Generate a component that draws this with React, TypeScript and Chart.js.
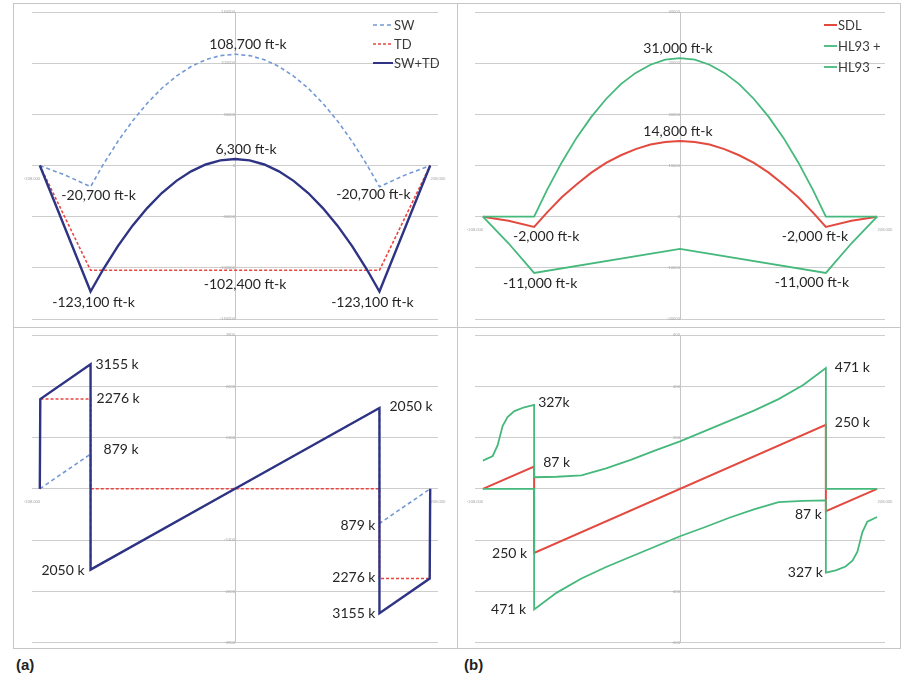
import React, { useEffect, useRef } from 'react';
import { Chart, registerables } from 'chart.js';

Chart.register(...registerables);

type Pt = [number, number];
type Lbl = [string, number, number];
type Off = [number, number, CanvasTextAlign];

// ---------- x span (ft) ----------
const X_MIN = -208;
const X_MAX = 208;

// ---------- (a) top: moment, ft-k ----------
const aMomentNames = ['SW', 'TD', 'SW+TD'];
const aMomentSW: Pt[] = [
  [-200, 0], [-174, -9400], [-148, -20700], [-135, 1000], [-120, 23600], [-105, 43600], [-90, 60800],
  [-75, 75500], [-60, 87400], [-45, 96700], [-30, 103400], [-15, 107400], [0, 108700],
  [15, 107400], [30, 103400], [45, 96700], [60, 87400], [75, 75500], [90, 60800], [105, 43600],
  [120, 23600], [135, 1000], [148, -20700], [174, -9400], [200, 0],
];
const aMomentTD: Pt[] = [[-200, 0], [-148, -102400], [148, -102400], [200, 0]];
const aMomentSum: Pt[] = [
  [-200, 0], [-148, -123100], [-135, -101400], [-120, -78800], [-105, -58800], [-90, -41600],
  [-75, -26900], [-60, -15000], [-45, -5700], [-30, 1000], [-15, 5000], [0, 6300],
  [15, 5000], [30, 1000], [45, -5700], [60, -15000], [75, -26900], [90, -41600], [105, -58800],
  [120, -78800], [135, -101400], [148, -123100], [200, 0],
];
const aMomentLabels: Lbl[] = [
  ['108,700 ft-k', 0, 108700], ['6,300 ft-k', 0, 6300],
  ['-20,700 ft-k', -148, -20700], ['-20,700 ft-k', 148, -20700],
  ['-123,100 ft-k', -148, -123100], ['-123,100 ft-k', 148, -123100],
  ['-102,400 ft-k', 0, -102400],
];

// ---------- (b) top: moment, ft-k ----------
const bMomentNames = ['SDL', 'HL93 +', 'HL93  -'];
const bMomentSDL: Pt[] = [
  [-200, 0], [-174, -800], [-148, -2000], [-135, 800], [-120, 3800], [-105, 6300], [-90, 8600],
  [-75, 10500], [-60, 12000], [-45, 13200], [-30, 14100], [-15, 14600], [0, 14800],
  [15, 14600], [30, 14100], [45, 13200], [60, 12000], [75, 10500], [90, 8600], [105, 6300],
  [120, 3800], [135, 800], [148, -2000], [174, -800], [200, 0],
];
const bMomentHLpos: Pt[] = [
  [-200, 0], [-148, 0], [-135, 5200], [-120, 10600], [-105, 15400], [-90, 19500], [-75, 23000],
  [-60, 25900], [-45, 28100], [-30, 29700], [-15, 30700], [0, 31000],
  [15, 30700], [30, 29700], [45, 28100], [60, 25900], [75, 23000], [90, 19500], [105, 15400],
  [120, 10600], [135, 5200], [148, 0], [200, 0],
];
const bMomentHLneg: Pt[] = [
  [-200, 0], [-174, -5200], [-148, -11000], [0, -6300], [148, -11000], [174, -5200], [200, 0],
];
const bMomentLabels: Lbl[] = [
  ['31,000 ft-k', 0, 31000], ['14,800 ft-k', 0, 14800],
  ['-2,000 ft-k', -148, -2000], ['-2,000 ft-k', 148, -2000],
  ['-11,000 ft-k', -148, -11000], ['-11,000 ft-k', 148, -11000],
];

// ---------- (a) bottom: shear, k ----------
const aShearSW: Pt[] = [[-200, 0], [-148, 879], [-148, -2050], [148, 2050], [148, -879], [200, 0]];
const aShearTD: Pt[] = [
  [-200, 0], [-199.5, 2276], [-148, 2276], [-148, 0], [148, 0], [148, -2276], [199.5, -2276], [200, 0],
];
const aShearSum: Pt[] = [
  [-200, 0], [-199.5, 2276], [-148, 3155], [-148, -2050], [0, 0], [148, 2050], [148, -3155], [199.5, -2276], [200, 0],
];
const aShearLabels: Lbl[] = [
  ['3155 k', -148, 3155], ['2276 k', -148, 2276], ['879 k', -148, 879], ['2050 k', 148, 2050],
  ['2050 k', -148, -2050], ['879 k', 148, -879], ['2276 k', 148, -2276], ['3155 k', 148, -3155],
];

// ---------- (b) bottom: shear, k ----------
const bShearSDL: Pt[] = [[-200, 0], [-148, 87], [-148, -250], [148, 250], [148, -87], [200, 0]];
const bShearHLpos: Pt[] = [
  [-200, 110], [-190, 128], [-185, 170], [-180, 245], [-175, 280], [-168, 303], [-158, 318], [-148, 327],
  [-148, 45], [-125, 47], [-100, 52], [-75, 80], [-50, 113], [-25, 150], [0, 185], [25, 225],
  [50, 265], [75, 305], [100, 350], [125, 405], [148, 471], [148, 0], [200, 0],
];
const bShearHLneg: Pt[] = [
  [-200, 0], [-148, 0], [-148, -471], [-125, -405], [-100, -350], [-75, -305], [-50, -265], [-25, -225],
  [0, -185], [25, -150], [50, -113], [75, -80], [100, -52], [125, -47], [148, -45], [148, -327],
  [158, -318], [168, -303], [175, -280], [180, -245], [185, -170], [190, -128], [200, -110],
];
const bShearLabels: Lbl[] = [
  ['471 k', 148, 471], ['327k', -148, 327], ['250 k', 148, 250], ['87 k', -148, 87],
  ['250 k', -148, -250], ['87 k', 148, -87], ['327 k', 148, -327], ['471 k', -148, -471],
];

// ---------- label offsets (px) ----------
const aMomentOff: Off[] = [[13, -10, 'center'], [11, -10, 'center'], [8, 9, 'center'], [-6, 8, 'center'], [3, 11, 'center'], [-7, 11, 'center'], [10, 14, 'center']];
const bMomentOff: Off[] = [[-2, -10, 'center'], [-2, -9, 'center'], [12, 10, 'center'], [-11, 10, 'center'], [6, 11, 'center'], [-14, 10, 'center']];
const aShearOff: Off[] = [[5, 0, 'left'], [6, -1, 'left'], [13, -5, 'left'], [10, -1, 'left'], [-6, 1, 'right'], [-4, 2, 'right'], [-4, -1, 'right'], [-4, 0, 'right']];
const bShearOff: Off[] = [[9, -1, 'left'], [4, -2, 'left'], [9, -2, 'left'], [9, -4, 'left'], [-7, 1, 'right'], [-4, 3, 'right'], [-3, 0, 'right'], [-8, 0, 'right']];

const C_SW = '#7398d6';
const C_TD = '#e8453f';
const C_SUM = '#2e3383';
const C_SDL = '#e24a40';
const C_HL = '#45b97c';

type Style = { color: string; width: number; dash?: number[]; order: number };
type LegendCfg = { right: number; top: number; gap: number; sample: number; items: { text: string; style: Style }[] };

function ds(label: string, pts: Pt[], s: Style) {
  return {
    label,
    data: pts.map(([x, y]) => ({ x, y })),
    borderColor: s.color,
    borderWidth: s.width,
    borderDash: s.dash || [],
    pointRadius: 0,
    fill: false,
    tension: 0,
    order: s.order,
  };
}

function annotate(labels: Lbl[], offsets: Off[], legend?: LegendCfg) {
  return {
    id: 'annotate',
    afterDatasetsDraw(chart: any) {
      const { ctx, chartArea } = chart;
      const xs = chart.scales.x;
      const ys = chart.scales.y;
      ctx.save();
      ctx.font = '14px Lato, "DejaVu Sans", sans-serif';
      ctx.fillStyle = '#262626';
      ctx.textBaseline = 'middle';
      labels.forEach(([text, x, y], i) => {
        const [dx, dy, align] = offsets[i];
        ctx.textAlign = align;
        ctx.fillText(text, xs.getPixelForValue(x) + dx, ys.getPixelForValue(y) + dy);
      });
      if (legend) {
        ctx.font = '13px Lato, "DejaVu Sans", sans-serif';
        ctx.textAlign = 'left';
        legend.items.forEach((it, i) => {
          const y = chartArea.top + legend.top + i * legend.gap;
          const x0 = chartArea.right + legend.right;
          ctx.strokeStyle = it.style.color;
          ctx.lineWidth = Math.min(it.style.width, 2);
          ctx.setLineDash(it.style.dash || []);
          ctx.beginPath();
          ctx.moveTo(x0, y);
          ctx.lineTo(x0 + legend.sample, y);
          ctx.stroke();
          ctx.setLineDash([]);
          ctx.fillStyle = '#3a3a3a';
          ctx.fillText(it.text, x0 + legend.sample + 1, y + 1);
        });
      }
      ctx.restore();
    },
  };
}

type PanelProps = {
  left: number; top: number; width: number; height: number;
  padding: { left: number; right: number; top: number; bottom: number };
  datasets: any[]; yMin: number; yMax: number; yStep: number;
  labels: Lbl[]; offsets: Off[]; legend?: LegendCfg;
};

function Panel(p: PanelProps) {
  const ref = useRef<HTMLCanvasElement>(null);
  useEffect(() => {
    const tickFont = { size: 4, family: 'Lato' };
    const chart = new Chart(ref.current as HTMLCanvasElement, {
      type: 'line',
      data: { datasets: p.datasets },
      options: {
        animation: false,
        responsive: false,
        devicePixelRatio: 1,
        events: [],
        layout: { padding: p.padding },
        plugins: { legend: { display: false }, tooltip: { enabled: false } },
        scales: {
          x: {
            type: 'linear',
            min: X_MIN,
            max: X_MAX,
            position: { y: 0 } as any,
            grid: { display: false },
            border: { display: false },
            afterBuildTicks: (scale: any) => {
              scale.ticks = [{ value: X_MIN }, { value: X_MAX }];
            },
            ticks: {
              font: tickFont,
              color: '#a8a8a8',
              maxRotation: 0,
              padding: 3,
              callback: (v: any) => Number(v).toFixed(3),
            },
          },
          y: {
            type: 'linear',
            min: p.yMin,
            max: p.yMax,
            position: { x: 0 } as any,
            grid: { color: '#cdcdcd', lineWidth: 1, drawTicks: false },
            border: { display: true, color: '#c6c6c6', width: 1 },
            ticks: { stepSize: p.yStep, font: tickFont, color: '#a8a8a8', padding: 3, callback: (v: any) => String(v) },
          },
        },
      } as any,
      plugins: [annotate(p.labels, p.offsets, p.legend)],
    });
    return () => chart.destroy();
  }, []);
  return (
    <canvas
      ref={ref}
      width={p.width}
      height={p.height}
      style={{ position: 'absolute', left: p.left, top: p.top, width: p.width, height: p.height }}
    />
  );
}

const sSW: Style = { color: C_SW, width: 1.6, dash: [4, 3], order: 2 };
const sTD: Style = { color: C_TD, width: 1.6, dash: [3, 2], order: 1 };
const sSUM: Style = { color: C_SUM, width: 2.4, order: 0 };
const sSDL: Style = { color: C_SDL, width: 2, order: 2 };
const sHL: Style = { color: C_HL, width: 1.8, order: 0 };

export default function App() {
  const line = (s: React.CSSProperties) => <div style={{ position: 'absolute', background: '#c6c6c6', ...s }} />;
  return (
    <div style={{ position: 'absolute', left: 0, top: 0, width: 905, height: 676, background: '#fff', overflow: 'hidden' }}>
      <div style={{ position: 'absolute', left: 13, top: 3, width: 888, height: 646, boxSizing: 'border-box', border: '1px solid #c6c6c6' }} />
      {line({ left: 457, top: 3, width: 1, height: 646 })}
      {line({ left: 13, top: 327, width: 888, height: 1 })}

      <Panel
        left={14} top={4} width={443} height={323}
        padding={{ left: 18, right: 19, top: 8, bottom: 8 }}
        yMin={-150000} yMax={150000} yStep={50000}
        datasets={[
          ds(aMomentNames[0], aMomentSW, sSW),
          ds(aMomentNames[1], aMomentTD, sTD),
          ds(aMomentNames[2], aMomentSum, sSUM),
        ]}
        labels={aMomentLabels} offsets={aMomentOff}
        legend={{
          right: -65, top: 13, gap: 19, sample: 20,
          items: [
            { text: aMomentNames[0], style: sSW },
            { text: aMomentNames[1], style: sTD },
            { text: aMomentNames[2], style: sSUM },
          ],
        }}
      />
      <Panel
        left={458} top={4} width={442} height={323}
        padding={{ left: 17, right: 15, top: 8, bottom: 8 }}
        yMin={-20000} yMax={40000} yStep={10000}
        datasets={[
          ds(bMomentNames[0], bMomentSDL, sSDL),
          ds(bMomentNames[1], bMomentHLpos, sHL),
          ds(bMomentNames[2], bMomentHLneg, sHL),
        ]}
        labels={bMomentLabels} offsets={bMomentOff}
        legend={{
          right: -61, top: 13, gap: 21, sample: 13,
          items: [
            { text: bMomentNames[0], style: sSDL },
            { text: bMomentNames[1], style: sHL },
            { text: bMomentNames[2], style: sHL },
          ],
        }}
      />
      <Panel
        left={14} top={328} width={443} height={320}
        padding={{ left: 18, right: 19, top: 7, bottom: 5 }}
        yMin={-3900} yMax={3900} yStep={1300}
        datasets={[
          ds(aMomentNames[0], aShearSW, sSW),
          ds(aMomentNames[1], aShearTD, sTD),
          ds(aMomentNames[2], aShearSum, sSUM),
        ]}
        labels={aShearLabels} offsets={aShearOff}
      />
      <Panel
        left={458} top={328} width={442} height={320}
        padding={{ left: 17, right: 15, top: 7, bottom: 5 }}
        yMin={-600} yMax={600} yStep={200}
        datasets={[
          ds(bMomentNames[0], bShearSDL, { ...sSDL, order: 1 }),
          ds(bMomentNames[1], bShearHLpos, sHL),
          ds(bMomentNames[2], bShearHLneg, sHL),
        ]}
        labels={bShearLabels} offsets={bShearOff}
      />

      <div style={{ position: 'absolute', left: 16, top: 656, font: 'bold 15px "Liberation Sans", Arial, sans-serif', lineHeight: '17px', color: '#222' }}>(a)</div>
      <div style={{ position: 'absolute', left: 464, top: 656, font: 'bold 15px "Liberation Sans", Arial, sans-serif', lineHeight: '17px', color: '#222' }}>(b)</div>
    </div>
  );
}
